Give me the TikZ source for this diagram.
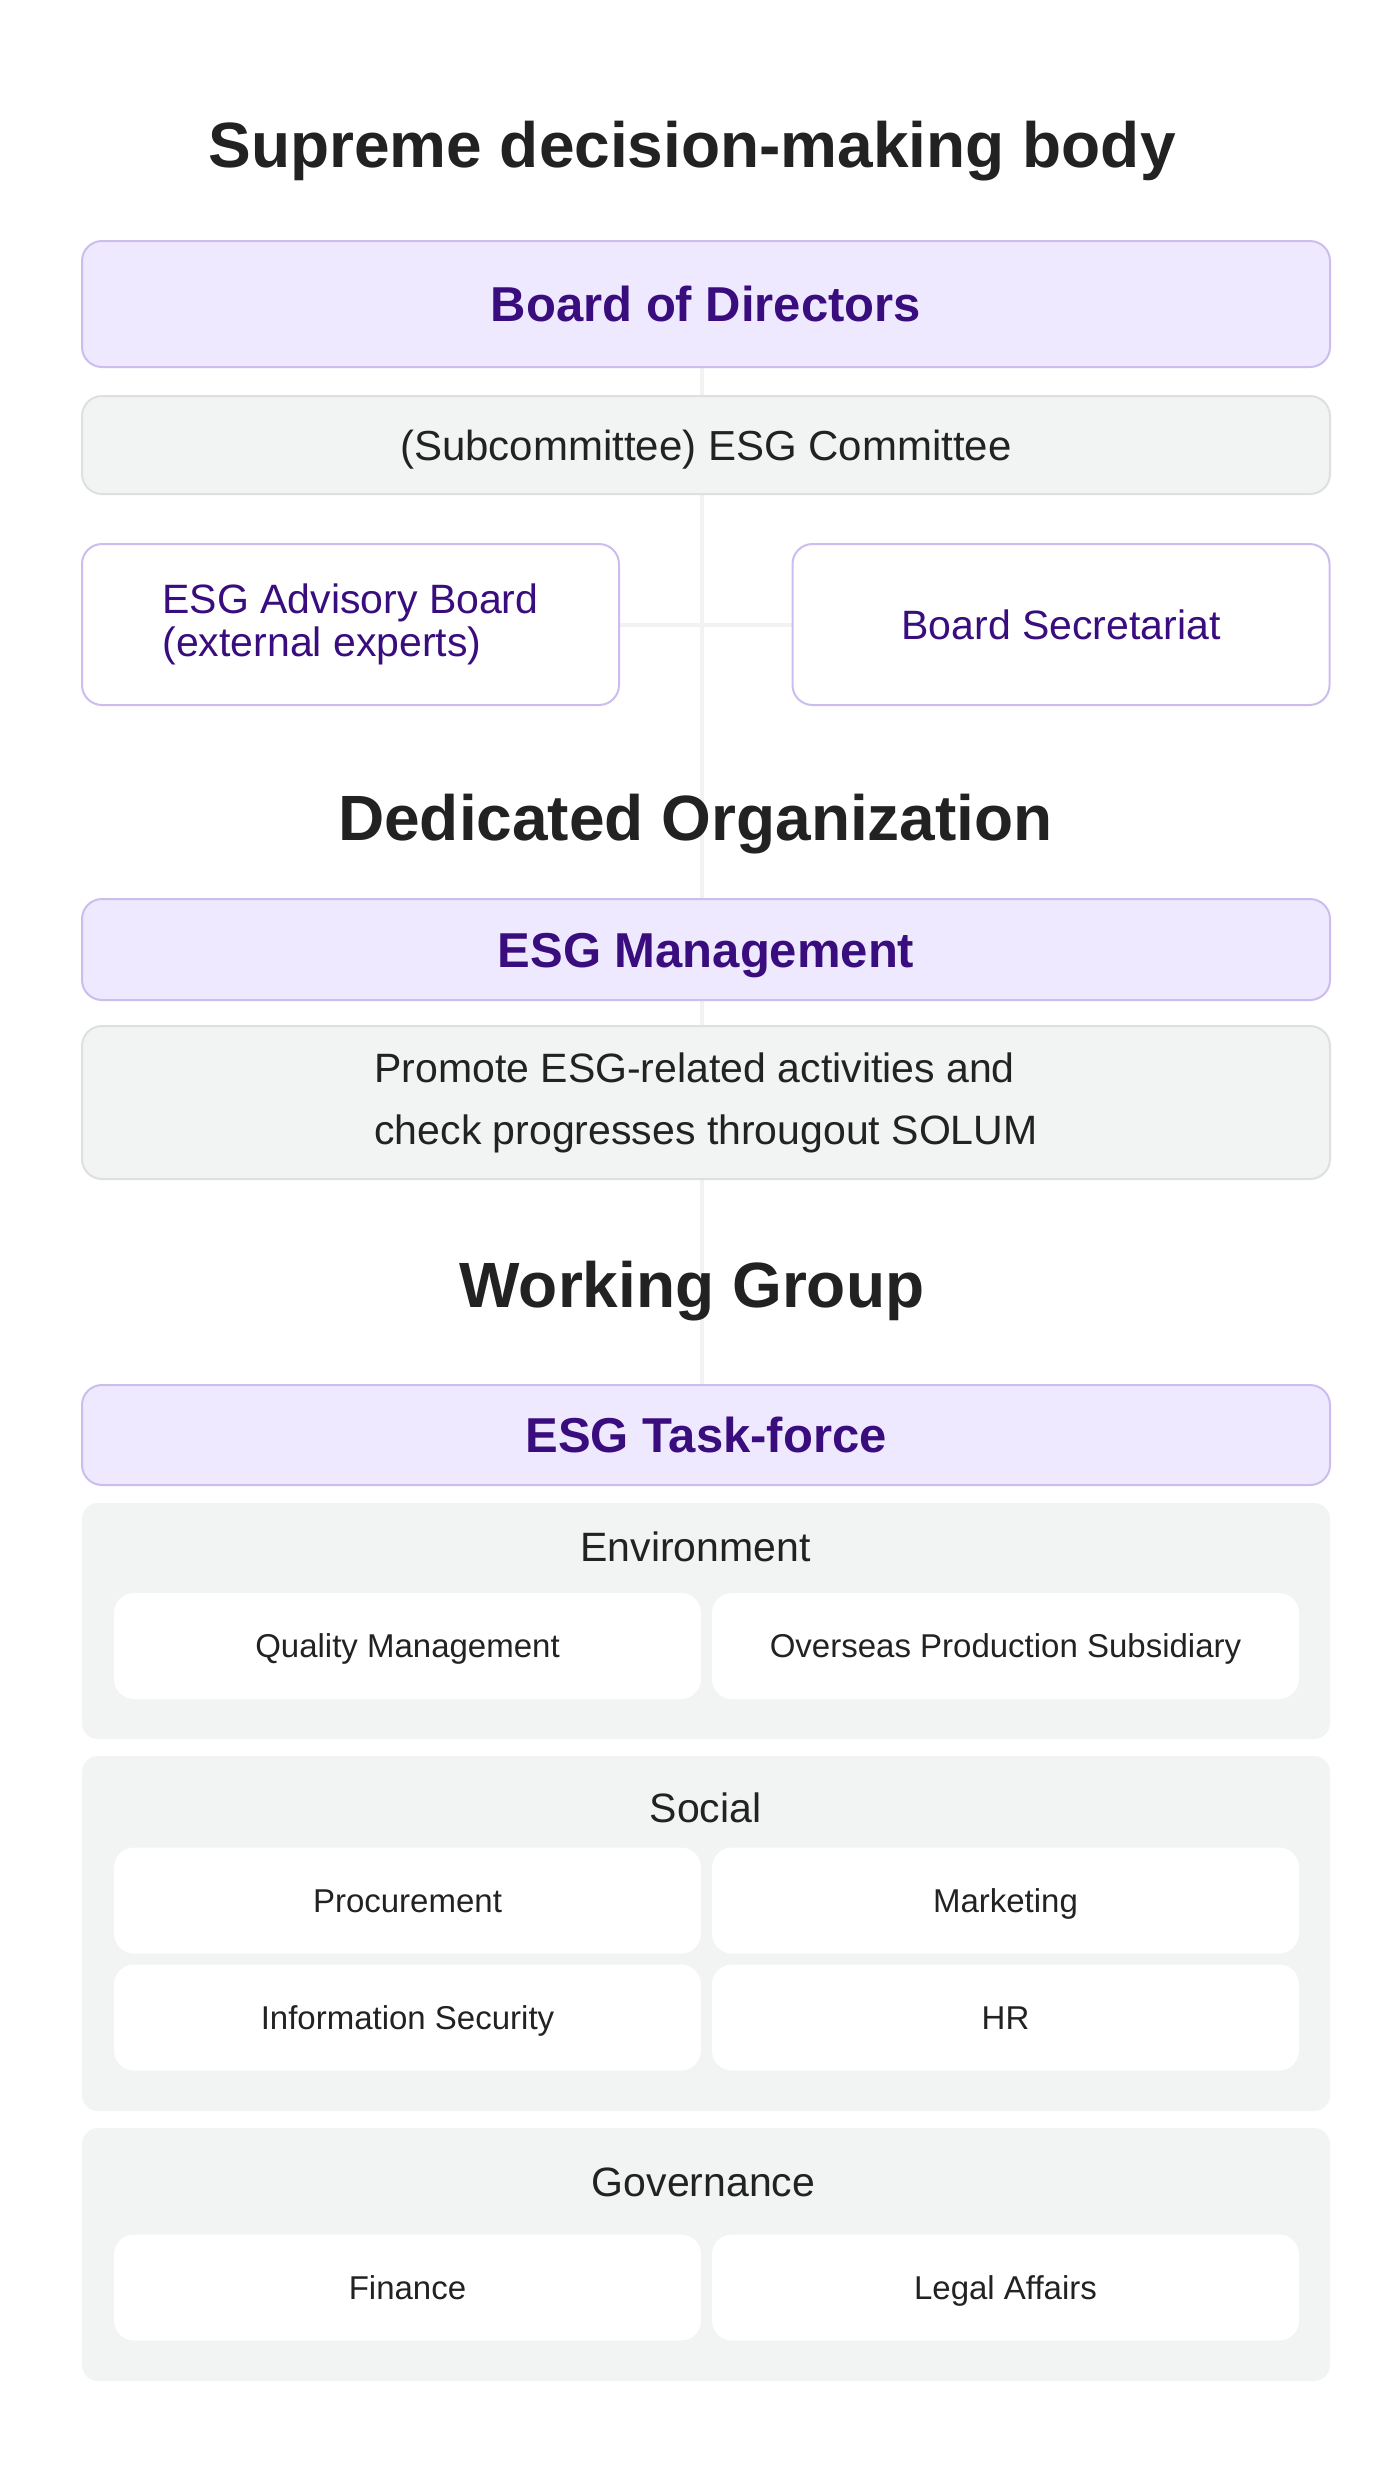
\documentclass[tikz,border=0pt]{standalone}
\usepackage{fontspec}
\setmainfont{Liberation Sans}
\usetikzlibrary{backgrounds}
\definecolor{pfill}{HTML}{EEE9FE}
\definecolor{pline}{HTML}{CDBDEF}
\definecolor{ptext}{HTML}{3A0D7E}
\definecolor{gfill}{HTML}{F2F3F3}
\definecolor{gline}{HTML}{DEE0E0}
\definecolor{dtext}{HTML}{222222}
\definecolor{conncol}{HTML}{F2F2F2}
\begin{document}
\begin{tikzpicture}[x=0.5pt,y=-0.5pt,
  sectitle/.style={font=\fontsize{32}{38}\selectfont\bfseries, text=dtext, anchor=base, inner sep=0pt},
  headbox/.style={draw=pline, line width=1pt, fill=pfill, rounded corners=10pt, minimum width=624pt,
    text=ptext, font=\fontsize{24.5}{29}\selectfont\bfseries, text height=17.5pt, text depth=0pt, inner sep=0pt},
  graybox/.style={draw=gline, line width=1pt, fill=gfill, rounded corners=10pt, minimum width=624pt,
    text=dtext, inner sep=0pt},
  sidebox/.style={draw=pline, line width=1pt, fill=white, rounded corners=10pt, minimum width=268.5pt,
    minimum height=80.5pt, text=ptext, font=\fontsize{20.5}{21.5}\selectfont, inner sep=0pt},
  group/.style={fill=gfill, rounded corners=8pt, minimum width=624pt, inner sep=0pt},
  grptitle/.style={font=\fontsize{20.5}{24}\selectfont, text=dtext, anchor=base, inner sep=0pt},
  item/.style={fill=white, rounded corners=10pt, minimum width=293.5pt, minimum height=53pt,
    font=\fontsize{16.5}{20}\selectfont, text=dtext, text height=11.8pt, text depth=0pt, inner sep=0pt},
  conn/.style={draw=conncol, line width=2pt}
]
\begin{scope}[on background layer]
  \fill[white] (0,0) rectangle (1400,2475);
\end{scope}
\useasboundingbox (0,0) rectangle (1400,2475);

% Supreme decision-making body
\node[sectitle] (t1) at (692,167) {Supreme decision-making body};
\node[headbox, minimum height=63pt] (board) at (706,304) {Board of Directors};
\node[graybox, minimum height=49pt, font=\fontsize{21}{25}\selectfont, text height=15pt, text depth=0pt] (comm) at (706,445) {(Subcommittee) ESG Committee};
\node[sidebox, align=left] (adv) at (350.5,624.5) {ESG Advisory Board\\(external experts)};
\node[sidebox, text height=14.7pt, text depth=0pt] (sec) at (1061,624.5) {Board Secretariat};

% Dedicated Organization
\node[sectitle] (t2) at (695.5,840) {Dedicated Organization};
\node[headbox, minimum height=50.5pt] (mgmt) at (706,949.5) {ESG Management};
\node[graybox, minimum height=76.5pt, align=left, font=\fontsize{20.5}{31}\selectfont] (prom) at (706,1102.5) {Promote ESG-related activities and\\check progresses througout SOLUM};

% Working Group
\node[sectitle] (t3) at (692,1307) {Working Group};
\node[headbox, minimum height=50pt] (task) at (706,1435) {ESG Task-force};

% Environment
\node[group, minimum height=118pt] (env) at (706,1621) {};
\node[grptitle] (envt) at (695.5,1561) {Environment};
\node[item] (qm) at (407.5,1646) {Quality Management};
\node[item] (ops) at (1005.5,1646) {Overseas Production Subsidiary};

% Social
\node[group, minimum height=177.5pt] (soc) at (706,1933.5) {};
\node[grptitle] (soct) at (705.5,1822) {Social};
\node[item] (proc) at (407.5,1900.5) {Procurement};
\node[item] (mkt) at (1005.5,1900.5) {Marketing};
\node[item] (infs) at (407.5,2017.5) {Information Security};
\node[item] (hr) at (1005.5,2017.5) {HR};

% Governance
\node[group, minimum height=126.5pt] (gov) at (706,2254.5) {};
\node[grptitle] (govt) at (703.5,2196) {Governance};
\node[item] (fin) at (407.5,2287.5) {Finance};
\node[item] (leg) at (1005.5,2287.5) {Legal Affairs};

\begin{scope}[on background layer]
  \draw[conn] ([xshift=-2pt]board.south) -- ([xshift=-2pt]task.north);
  \draw[conn] (adv.east) -- (sec.west);
\end{scope}
\end{tikzpicture}
\end{document}
